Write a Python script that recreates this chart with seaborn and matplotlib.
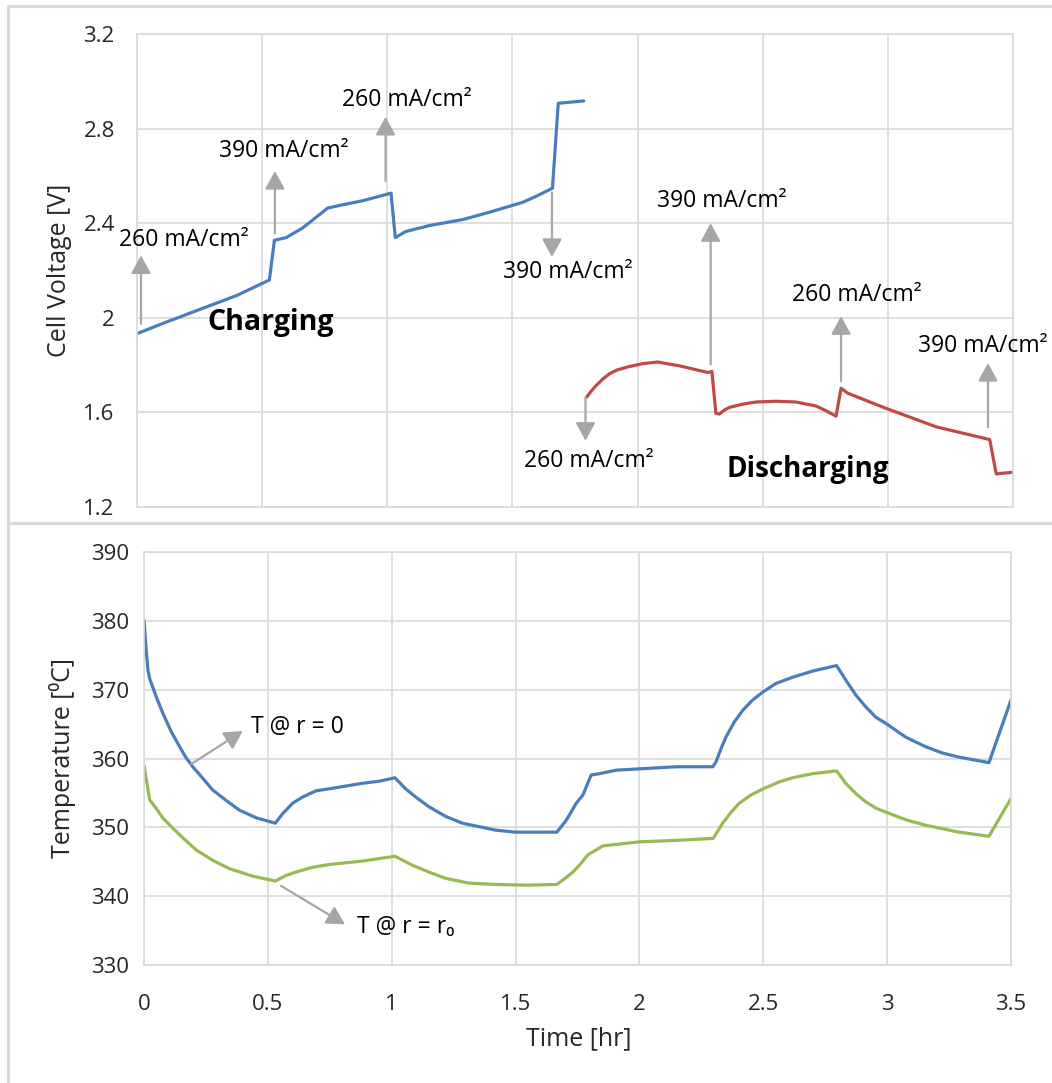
import numpy as np
import pandas as pd
import matplotlib
matplotlib.use("Agg")
import matplotlib.pyplot as plt
import seaborn as sns
from matplotlib.lines import Line2D

# ---------------- data ----------------
charge_t = [0.0, 0.10, 0.25, 0.40, 0.529, 0.549, 0.596, 0.662, 0.762, 0.822, 0.902, 1.015,
            1.032, 1.074, 1.168, 1.30, 1.407, 1.54, 1.593, 1.66, 1.683, 1.785]
charge_v = [1.933, 1.975, 2.035, 2.095, 2.160, 2.328, 2.339, 2.380, 2.464, 2.478, 2.495, 2.527,
            2.339, 2.365, 2.390, 2.415, 2.446, 2.488, 2.513, 2.548, 2.907, 2.917]

dis_t = [1.796, 1.815, 1.833, 1.86, 1.887, 1.92, 1.967, 2.02, 2.08, 2.167, 2.28, 2.297, 2.313,
         2.327, 2.347, 2.367, 2.42, 2.473, 2.553, 2.633, 2.713, 2.753, 2.793, 2.813, 2.84,
         2.993, 3.193, 3.407, 3.433, 3.5]
dis_v = [1.664, 1.690, 1.712, 1.740, 1.763, 1.780, 1.794, 1.806, 1.813, 1.797, 1.769, 1.773,
         1.596, 1.593, 1.610, 1.621, 1.635, 1.644, 1.647, 1.644, 1.627, 1.607, 1.584, 1.702,
         1.681, 1.617, 1.539, 1.485, 1.340, 1.347]

temp_t0 = [0.0, 0.009, 0.016, 0.023, 0.05, 0.077, 0.110, 0.144, 0.170, 0.197, 0.238, 0.278,
           0.332, 0.385, 0.452, 0.53, 0.56, 0.60, 0.64, 0.694, 0.748, 0.815, 0.882, 0.949,
           1.013, 1.056, 1.097, 1.15, 1.217, 1.285, 1.352, 1.419, 1.497, 1.55, 1.667, 1.704,
           1.745, 1.772, 1.805, 1.839, 1.906, 2.0, 2.148, 2.296, 2.309, 2.329, 2.349, 2.383,
           2.417, 2.457, 2.5, 2.551, 2.618, 2.699, 2.796, 2.833, 2.874, 2.914, 2.954, 2.995,
           3.075, 3.156, 3.223, 3.29, 3.411, 3.5]
temp_r0 = [380.1, 375.7, 372.8, 371.6, 368.9, 366.5, 363.9, 361.7, 360.1, 358.8, 357.1, 355.4,
           353.9, 352.5, 351.4, 350.6, 352.0, 353.5, 354.4, 355.3, 355.6, 356.0, 356.4, 356.7,
           357.2, 355.6, 354.4, 353.0, 351.6, 350.6, 350.1, 349.6, 349.3, 349.3, 349.3, 351.0,
           353.5, 354.7, 357.6, 357.8, 358.3, 358.5, 358.8, 358.8, 359.5, 361.4, 363.1, 365.3,
           367.0, 368.5, 369.7, 370.9, 371.8, 372.7, 373.5, 371.4, 369.2, 367.5, 366.0, 365.1,
           363.1, 361.7, 360.8, 360.2, 359.4, 368.5]

temp_t1 = [0.0, 0.023, 0.05, 0.077, 0.144, 0.211, 0.278, 0.345, 0.439, 0.53, 0.573, 0.613,
           0.681, 0.748, 0.882, 1.013, 1.083, 1.15, 1.217, 1.311, 1.419, 1.55, 1.667, 1.704,
           1.731, 1.758, 1.792, 1.852, 2.0, 2.148, 2.298, 2.336, 2.37, 2.403, 2.45, 2.5, 2.565,
           2.618, 2.699, 2.796, 2.833, 2.874, 2.914, 2.954, 2.995, 3.075, 3.156, 3.29, 3.411,
           3.5]
temp_rr = [359.0, 354.0, 352.7, 351.3, 348.9, 346.7, 345.2, 344.0, 342.9, 342.2, 343.0, 343.5,
           344.2, 344.6, 345.1, 345.8, 344.5, 343.5, 342.6, 341.9, 341.7, 341.6, 341.7, 342.7,
           343.5, 344.5, 346.0, 347.3, 347.9, 348.1, 348.4, 350.6, 352.2, 353.5, 354.7, 355.6,
           356.6, 357.2, 357.8, 358.2, 356.4, 354.9, 353.7, 352.8, 352.2, 351.1, 350.3, 349.3,
           348.7, 354.2]

v_ticks = [1.2, 1.6, 2.0, 2.4, 2.8, 3.2]
v_tick_labels = ["1.2", "1.6", "2", "2.4", "2.8", "3.2"]
t_ticks = [0, 0.5, 1, 1.5, 2, 2.5, 3, 3.5]
t_tick_labels = ["0", "0.5", "1", "1.5", "2", "2.5", "3", "3.5"]
temp_ticks = [330, 340, 350, 360, 370, 380, 390]

# annotations: (label, tail_t, tail_v, head_t, head_v, text_t, text_v)
v_annots = [
    ("260 mA/cm²", 0.016, 1.974, 0.016, 2.264, -0.073, 2.329),
    ("390 mA/cm²", 0.551, 2.357, 0.551, 2.621, 0.326, 2.704),
    ("260 mA/cm²", 0.993, 2.579, 0.993, 2.850, 0.821, 2.919),
    ("390 mA/cm²", 1.658, 2.530, 1.658, 2.257, 1.461, 2.193),
    ("390 mA/cm²", 2.292, 1.803, 2.292, 2.400, 2.077, 2.493),
    ("260 mA/cm²", 1.792, 1.666, 1.792, 1.480, 1.548, 1.393),
    ("260 mA/cm²", 2.813, 1.732, 2.813, 2.007, 2.616, 2.096),
    ("390 mA/cm²", 3.400, 1.538, 3.400, 1.809, 3.121, 1.879),
]
t_annots = [
    ("T @ r = 0", 0.191, 359.2, 0.399, 364.0, 0.432, 364.6),
    ("T @ r = r₀", 0.553, 341.5, 0.812, 335.9, 0.861, 335.5),
]

# ---------------- style ----------------
sns.set_theme(style="white")
FAM = ["Open Sans", "DejaVu Sans"]
plt.rcParams["font.family"] = FAM

W, H = 1052, 1083
fig = plt.figure(figsize=(W / 100, H / 100), dpi=100)
fig.patch.set_facecolor("white")

GRID = "#d9d9d9"
ARROW = "#a6a6a6"
BLUE = "#4a7ebb"
RED = "#be4b48"
GREEN = "#98b954"
TXT = "#262626"


def px_axes(l, t, r, b):
    return fig.add_axes([l / W, 1 - b / H, (r - l) / W, (b - t) / H])


def style_ax(ax):
    for s in ax.spines.values():
        s.set_visible(True)
        s.set_color(GRID)
        s.set_linewidth(1.2)
    ax.grid(True, color=GRID, linewidth=1.2)
    ax.set_axisbelow(True)
    ax.set_xlabel("")
    ax.set_ylabel("")


def arrow(ax, x0, y0, x1, y1):
    ax.annotate("", xy=(x1, y1), xytext=(x0, y0),
                arrowprops=dict(arrowstyle="-|>,head_length=0.55,head_width=0.3",
                                color=ARROW, lw=1.6, shrinkA=0, shrinkB=0,
                                mutation_scale=20),
                annotation_clip=False)


# ---------------- top panel ----------------
ax1 = px_axes(137, 34, 1013, 507)
df_c = pd.DataFrame({"t": charge_t, "v": charge_v})
df_d = pd.DataFrame({"t": dis_t, "v": dis_v})
sns.lineplot(data=df_c, x="t", y="v", ax=ax1, color=BLUE, lw=2.3, sort=False, estimator=None)
sns.lineplot(data=df_d, x="t", y="v", ax=ax1, color=RED, lw=2.3, sort=False, estimator=None)
ax1.set_xlim(0, 3.5)
ax1.set_ylim(1.2, 3.2)
ax1.set_xticks(t_ticks)
ax1.set_xticklabels([])
ax1.set_yticks(v_ticks)
ax1.set_yticklabels(v_tick_labels)
style_ax(ax1)
ax1.tick_params(axis="both", length=0, labelsize=16, labelcolor=TXT)
ax1.tick_params(axis="y", pad=16)

for lab, x0, y0, x1, y1, tx, ty in v_annots:
    arrow(ax1, x0, y0, x1, y1)
    ax1.text(tx, ty, lab, fontsize=16.5, color="black", ha="left", va="center",
             family=FAM, clip_on=False)
ax1.text(0.28, 1.982, "Charging", fontsize=20.5, fontweight="bold", color="black",
         ha="left", va="center")
ax1.text(2.357, 1.36, "Discharging", fontsize=20, fontweight="bold", color="black",
         ha="left", va="center")

fig.text(59 / W, 1 - 270 / H, "Cell Voltage [V]", rotation=90, ha="center", va="center",
         fontsize=18, color=TXT)

# ---------------- bottom panel ----------------
ax2 = px_axes(144, 552, 1011, 965)
df_t0 = pd.DataFrame({"t": temp_t0, "T": temp_r0})
df_t1 = pd.DataFrame({"t": temp_t1, "T": temp_rr})
sns.lineplot(data=df_t0, x="t", y="T", ax=ax2, color=BLUE, lw=2.3, sort=False, estimator=None)
sns.lineplot(data=df_t1, x="t", y="T", ax=ax2, color=GREEN, lw=2.3, sort=False, estimator=None)
ax2.set_xlim(0, 3.5)
ax2.set_ylim(330, 390)
ax2.set_xticks(t_ticks)
ax2.set_xticklabels(t_tick_labels)
ax2.set_yticks(temp_ticks)
style_ax(ax2)
ax2.tick_params(axis="both", length=0, labelsize=16, labelcolor=TXT)
ax2.tick_params(axis="y", pad=11)
ax2.tick_params(axis="x", pad=21)

for lab, x0, y0, x1, y1, tx, ty in t_annots:
    arrow(ax2, x0, y0, x1, y1)
    ax2.text(tx, ty, lab, fontsize=16.5, color="black", ha="left", va="center",
             family=FAM, clip_on=False)

fig.text(63 / W, 1 - 758 / H, "Temperature [⁰C]", rotation=90, ha="center", va="center",
         fontsize=18, color=TXT)
fig.text(579 / W, 1 - 1039 / H, "Time [hr]", ha="center", va="center",
         fontsize=18, color=TXT)

# ---------------- panel borders ----------------
BORDER = "#d9d9d9"
for (x0, y0, x1, y1) in [(8, 6, W + 5, 6), (8, 6, 8, H + 5), (8, 523, W + 5, 523)]:
    fig.add_artist(Line2D([x0 / W, x1 / W], [1 - y0 / H, 1 - y1 / H],
                          transform=fig.transFigure, color=BORDER, lw=2.2))

fig.savefig("out.png", dpi=100, facecolor="white")
